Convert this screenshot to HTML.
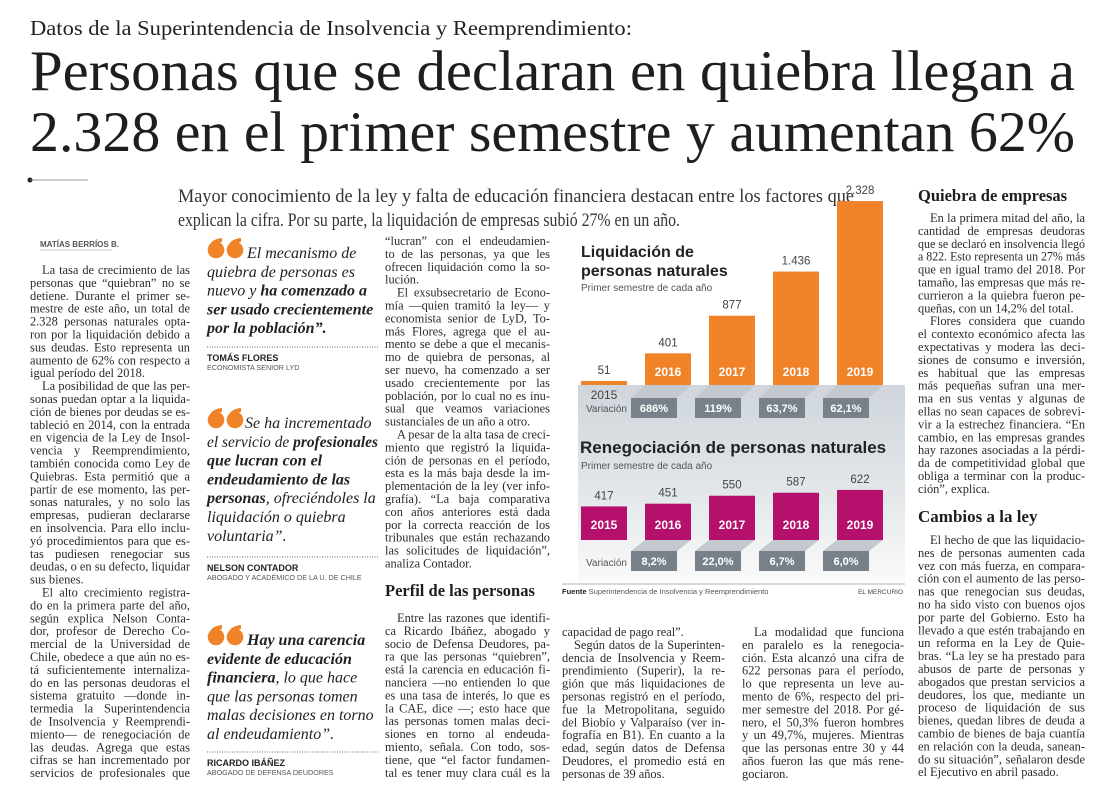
<!DOCTYPE html>
<html><head><meta charset="utf-8">
<style>
html,body{margin:0;padding:0;background:#fff;}
svg{display:block;}
.body{font-family:"Liberation Serif",serif;font-size:12.4px;fill:#2b2b2b;}
.q{font-family:"Liberation Serif",serif;font-size:16px;font-style:italic;fill:#222;}
.sans{font-family:"Liberation Sans",sans-serif;}
</style></head>
<body>
<svg id="page" width="1100" height="805" viewBox="0 0 1100 805" xmlns="http://www.w3.org/2000/svg">
<defs>
<linearGradient id="panelGrad" x1="0" y1="0" x2="0" y2="1">
<stop offset="0" stop-color="#cfd5db"/><stop offset="0.55" stop-color="#e3e7ea"/><stop offset="1" stop-color="#fafafa"/>
</linearGradient>
</defs>
<text x="30" y="35" textLength="602" lengthAdjust="spacingAndGlyphs" style="font-family:'Liberation Serif',serif;font-size:21px;fill:#222">Datos de la Superintendencia de Insolvencia y Reemprendimiento:</text>
<text x="30" y="90" textLength="1045" lengthAdjust="spacingAndGlyphs" style="font-family:'Liberation Serif',serif;font-size:57px;fill:#1e1e1e">Personas que se declaran en quiebra llegan a</text>
<text x="30" y="151" textLength="1045" lengthAdjust="spacingAndGlyphs" style="font-family:'Liberation Serif',serif;font-size:57px;fill:#1e1e1e">2.328 en el primer semestre y aumentan 62%</text>
<circle cx="30" cy="180" r="2.5" fill="#222"/>
<line x1="30" y1="180" x2="88" y2="180" stroke="#777" stroke-width="0.8"/>
<text x="178" y="202" textLength="676" lengthAdjust="spacingAndGlyphs" style="font-family:'Liberation Serif',serif;font-size:19px;fill:#333">Mayor conocimiento de la ley y falta de educación financiera destacan entre los factores que</text>
<text x="178" y="226" textLength="502" lengthAdjust="spacingAndGlyphs" style="font-family:'Liberation Serif',serif;font-size:19px;fill:#333">explican la cifra. Por su parte, la liquidación de empresas subió 27% en un año.</text>
<text x="40" y="247" class="sans" style="font-size:8px;font-weight:bold;fill:#555">MATÍAS BERRÍOS B.</text>
<line x1="40" y1="250" x2="112" y2="250" stroke="#999" stroke-width="0.6"/>

<g id="quotes"></g>
<g id="cols"></g>

<g id="chart">
<rect x="578" y="385" width="327" height="197" fill="url(#panelGrad)"/>
<text x="581" y="257" class="sans" style="font-size:16px;font-weight:bold;fill:#222">Liquidación de</text>
<text x="581" y="276" class="sans" style="font-size:16px;font-weight:bold;fill:#222">personas naturales</text>
<text x="581" y="291" class="sans" style="font-size:10px;fill:#555">Primer semestre de cada año</text>
<text x="580" y="453" class="sans" style="font-size:17px;font-weight:bold;fill:#222">Renegociación de personas naturales</text>
<text x="581" y="469" class="sans" style="font-size:10px;fill:#555">Primer semestre de cada año</text>
<text x="586" y="412" class="sans" style="font-size:10px;fill:#555">Variación</text>
<text x="586" y="566" class="sans" style="font-size:10px;fill:#555">Variación</text>
<line x1="562" y1="584" x2="905" y2="584" stroke="#999" stroke-width="0.7"/>
<text x="562" y="594" class="sans" style="font-size:7.5px;fill:#555"><tspan font-weight="bold" fill="#222">Fuente</tspan> Superintendencia de Insolvencia y Reemprendimiento</text>
<text x="903" y="594" text-anchor="end" class="sans" style="font-size:6.5px;fill:#444">EL MERCURIO</text>
</g>
</svg>
<script>
const years = ["2015","2016","2017","2018","2019"];
const liquidacion = [51, 401, 877, 1436, 2328];
const liquidacionLabels = ["51","401","877","1.436","2.328"];
const liquidacionVar = ["","686%","119%","63,7%","62,1%"];
const renegociacion = [417, 451, 550, 587, 622];
const renegociacionLabels = ["417","451","550","587","622"];
const renegociacionVar = ["","8,2%","22,0%","6,7%","6,0%"];

const NS = "http://www.w3.org/2000/svg";
const svg = document.getElementById('page');
const chart = document.getElementById('chart');
function el(tag, attrs, parent){const e=document.createElementNS(NS,tag);for(const k in attrs)e.setAttribute(k,attrs[k]);(parent||svg).appendChild(e);return e;}

const barW = 46;
function xBar(i){ return 581 + i*64; }
function y1(v){ return 385 - v*0.079; }
function y2(v){ return 540 - v*0.0805; }

function drawSeries(vals, labels, vars, yFn, base, color, boxY, prefix, yearOff){
  vals.forEach((v,i)=>{
    const x = xBar(i), top = yFn(v);
    if (vars[i]) {
      const par = el('polygon',{points:`${x},${base} ${x+barW},${base} ${x+barW-14},${boxY} ${x-14},${boxY}`,fill:'#c3c9cf'},chart);
      
      
      const box = el('rect',{x:x-14,y:boxY,width:barW,height:20,fill:'#78818a'},chart);
      
      
      const vt = el('text',{x:x-14+barW/2,y:boxY+14,'text-anchor':'middle',class:'sans',style:'font-size:11px;font-weight:bold;fill:#fff'},chart);
      vt.textContent = vars[i];
      
      
    }
    const r = el('rect',{x:x,y:top,width:barW,height:base-top,fill:color},chart);
    
    
    const lt = el('text',{x:x+barW/2,y:top-7,'text-anchor':'middle',class:'sans',style:'font-size:11.5px;fill:#444'},chart);
    lt.textContent = labels[i];
    
    
    const inside = (base-top) > 20;
    const yt = el('text',{x:x+barW/2,y: inside ? base-yearOff : base+14,'text-anchor':'middle',class:'sans',style: inside ? 'font-size:12px;font-weight:bold;fill:#fff' : 'font-size:12px;fill:#444'},chart);
    yt.textContent = years[i];
    
    
  });
}
drawSeries(liquidacion, liquidacionLabels, liquidacionVar, y1, 385, '#f08228', 398, 'liquidacion', 9);
drawSeries(renegociacion, renegociacionLabels, renegociacionVar, y2, 540, '#b5106c', 551, 'renegociacion', 11);

// ---------- quotes ----------
const quotes = [
 {mx:208, my:238, x0:247, y:258, lines:["El mecanismo de","quiebra de personas es","nuevo y **ha comenzado a**","**ser usado crecientemente**","**por la población”.**"], rule:347, name:"TOMÁS FLORES", role:"ECONOMISTA SENIOR LYD"},
 {mx:208, my:408, x0:245, y:428, lines:["Se ha incrementado","el servicio de **profesionales**","**que lucran con el**","**endeudamiento de las**","**personas**, ofreciéndoles la","liquidación o quiebra","voluntaria”."], rule:557, name:"NELSON CONTADOR", role:"ABOGADO Y ACADÉMICO DE LA U. DE CHILE"},
 {mx:208, my:625, x0:247, y:645, lines:["**Hay una carencia**","**evidente de educación**","**financiera**, lo que hace","que las personas tomen","malas decisiones en torno","al endeudamiento”."], rule:752, name:"RICARDO IBÁÑEZ", role:"ABOGADO DE DEFENSA DEUDORES"}
];
const qg = document.getElementById('quotes');
quotes.forEach(q=>{
  // heavy "66" quote mark drawn as shapes
  [0,19].forEach(dx=>{
    const c = el('circle',{cx:q.mx+8+dx,cy:q.my+12,r:8.3,fill:'#f08228'},qg);
    
    
    const tail = el('path',{d:`M ${q.mx+0.5+dx} ${q.my+11} Q ${q.mx+2+dx} ${q.my+1} ${q.mx+14+dx} ${q.my} L ${q.mx+14+dx} ${q.my+4} Q ${q.mx+8+dx} ${q.my+5} ${q.mx+8+dx} ${q.my+10} Z`,fill:'#f08228'},qg);
    
    
  });
  q.lines.forEach((ln,i)=>{
    const x = i===0 ? q.x0 : 207;
    const t = el('text',{x:x,y:q.y+i*18.8,class:'q'},qg);
    
    
    ln.split('**').forEach((seg,k)=>{ if(!seg) return; const s=el('tspan',{},t); if(k%2===1) s.setAttribute('font-weight','bold'); s.textContent=seg; });
    const avail = 378 - x;
    const len = t.getComputedTextLength();
    if (len > avail) { t.setAttribute('textLength', avail); t.setAttribute('lengthAdjust','spacingAndGlyphs'); }
  });
  const r = el('line',{x1:207,y1:q.rule,x2:378,y2:q.rule,stroke:'#666','stroke-width':1,'stroke-dasharray':'1 1.5'},qg);
  
  
  const n = el('text',{x:207,y:q.rule+14,class:'sans',style:'font-size:9px;font-weight:bold;fill:#222'},qg);
  n.textContent = q.name;
  
  
  const ro = el('text',{x:207,y:q.rule+23,class:'sans',style:'font-size:7.2px;fill:#555'},qg);
  ro.textContent = q.role;
  
  
});

// ---------- body columns ----------
const cg = document.getElementById('cols');
const PITCH = 12.9;
function column(x, w, y0, paras){
  let y = y0;
  paras.forEach(p=>{
    if (p.head){
      const h = el('text',{x:x,y:y+p.dy,style:"font-family:'Liberation Serif',serif;font-weight:bold;font-size:"+p.size+"px;fill:#1e1e1e"},cg);
      h.textContent = p.head;
      
      
      y += p.gap; return;
    }
    p.lines.forEach((ln,i)=>{
      const last = i===p.lines.length-1 && !p.cont;
      const ind = (i===0 && !p.noindent) ? 12 : 0;
      const t = el('text',{x:x+ind,y:y+4,class:'body'},cg);
      t.textContent = ln;
      
      
      const avail = w - ind;
      const len = t.getComputedTextLength();
      if (len > avail){ t.setAttribute('textLength',avail); t.setAttribute('lengthAdjust','spacingAndGlyphs'); }
      else if (!last){ const sp=(ln.match(/ /g)||[]).length; if(sp>0) t.setAttribute('word-spacing',((avail-len)/sp).toFixed(2)); else {t.setAttribute('textLength',avail);} }
      y += PITCH;
    });
  });
}
column(30,160,270,[
 {lines:["La tasa de crecimiento de las","personas que “quiebran” no se","detiene. Durante el primer se-","mestre de este año, un total de","2.328 personas naturales opta-","ron por la liquidación debido a","sus deudas. Esto representa un","aumento de 62% con respecto a","igual período del 2018."]},
 {lines:["La posibilidad de que las per-","sonas puedan optar a la liquida-","ción de bienes por deudas se es-","tableció en 2014, con la entrada","en vigencia de la Ley de Insol-","vencia y Reemprendimiento,","también conocida como Ley de","Quiebras. Esta permitió que a","partir de ese momento, las per-","sonas naturales, y no solo las","empresas, pudieran declararse","en insolvencia. Para ello inclu-","yó procedimientos para que es-","tas pudiesen renegociar sus","deudas, o en su defecto, liquidar","sus bienes."]},
 {cont:true, lines:["El alto crecimiento registra-","do en la primera parte del año,","según explica Nelson Conta-","dor, profesor de Derecho Co-","mercial de la Universidad de","Chile, obedece a que aún no es-","tá suficientemente internaliza-","do en las personas deudoras el","sistema gratuito —donde in-","termedia la Superintendencia","de Insolvencia y Reemprendi-","miento— de renegociación de","las deudas. Agrega que estas","cifras se han incrementado por","servicios de profesionales que"]}
]);
column(385,165,241,[
 {noindent:true, lines:["“lucran” con el endeudamien-","to de las personas, ya que les","ofrecen liquidación como la so-","lución."]},
 {lines:["El exsubsecretario de Econo-","mía —quien tramitó la ley— y","economista senior de LyD, To-","más Flores, agrega que el au-","mento se debe a que el mecanis-","mo de quiebra de personas, al","ser nuevo, ha comenzado a ser","usado crecientemente por las","población, por lo cual no es inu-","sual que veamos variaciones","sustanciales de un año a otro."]},
 {lines:["A pesar de la alta tasa de creci-","miento que registró la liquida-","ción de personas en el período,","esta es la más baja desde la im-","plementación de la ley (ver info-","grafía). “La baja comparativa","con años anteriores está dada","por la correcta reacción de los","tribunales que están rechazando","las solicitudes de liquidación”,","analiza Contador."]}
]);
column(385,165,618,[
 {cont:true, lines:["Entre las razones que identifi-","ca Ricardo Ibáñez, abogado y","socio de Defensa Deudores, pa-","ra que las personas “quiebren”,","está la carencia en educación fi-","nanciera —no entienden lo que","es una tasa de interés, lo que es","la CAE, dice —; esto hace que","las personas tomen malas deci-","siones en torno al endeuda-","miento, señala. Con todo, sos-","tiene, que “el factor fundamen-","tal es tener muy clara cuál es la"]}
]);
column(562,163,632,[
 {noindent:true, lines:["capacidad de pago real”."]},
 {lines:["Según datos de la Superinten-","dencia de Insolvencia y Reem-","prendimiento (Superir), la re-","gión que más liquidaciones de","personas registró en el período,","fue la Metropolitana, seguido","del Biobío y Valparaíso (ver in-","fografía en B1). En cuanto a la","edad, según datos de Defensa","Deudores, el promedio está en","personas de 39 años."]}
]);
column(742,162,632,[
 {lines:["La modalidad que funciona","en paralelo es la renegocia-","ción. Esta alcanzó una cifra de","622 personas para el período,","lo que representa un leve au-","mento de 6%, respecto del pri-","mer semestre del 2018. Por gé-","nero, el 50,3% fueron hombres","y un 49,7%, mujeres. Mientras","que las personas entre 30 y 44","años fueron las que más rene-","gociaron."]}
]);
column(918,167,218,[
 {lines:["En la primera mitad del año, la","cantidad de empresas deudoras","que se declaró en insolvencia llegó","a 822. Esto representa un 27% más","que en igual tramo del 2018. Por","tamaño, las empresas que más re-","currieron a la quiebra fueron pe-","queñas, con un 14,2% del total."]},
 {lines:["Flores considera que cuando","el contexto económico afecta las","expectativas y modera las deci-","siones de consumo e inversión,","es habitual que las empresas","más pequeñas sufran una mer-","ma en sus ventas y algunas de","ellas no sean capaces de sobrevi-","vir a la estrechez financiera. “En","cambio, en las empresas grandes","hay razones asociadas a la pérdi-","da de competitividad global que","obliga a terminar con la produc-","ción”, explica."]}
]);
column(918,167,540,[
 {lines:["El hecho de que las liquidacio-","nes de personas aumenten cada","vez con más fuerza, en compara-","ción con el aumento de las perso-","nas que renegocian sus deudas,","no ha sido visto con buenos ojos","por parte del Gobierno. Esto ha","llevado a que estén trabajando en","un reforma en la Ley de Quie-","bras. “La ley se ha prestado para","abusos de parte de personas y","abogados que prestan servicios a","deudores, los que, mediante un","proceso de liquidación de sus","bienes, quedan libres de deuda a","cambio de bienes de baja cuantía","en relación con la deuda, sanean-","do su situación”, señalaron desde","el Ejecutivo en abril pasado."]}
]);
column(385,165,590,[{head:"Perfil de las personas",size:16.5,dy:6,gap:0}]);
column(918,167,195,[{head:"Quiebra de empresas",size:16.5,dy:6,gap:0}]);
column(918,167,516,[{head:"Cambios a la ley",size:17,dy:6,gap:0}]);
</script>
</body></html>
